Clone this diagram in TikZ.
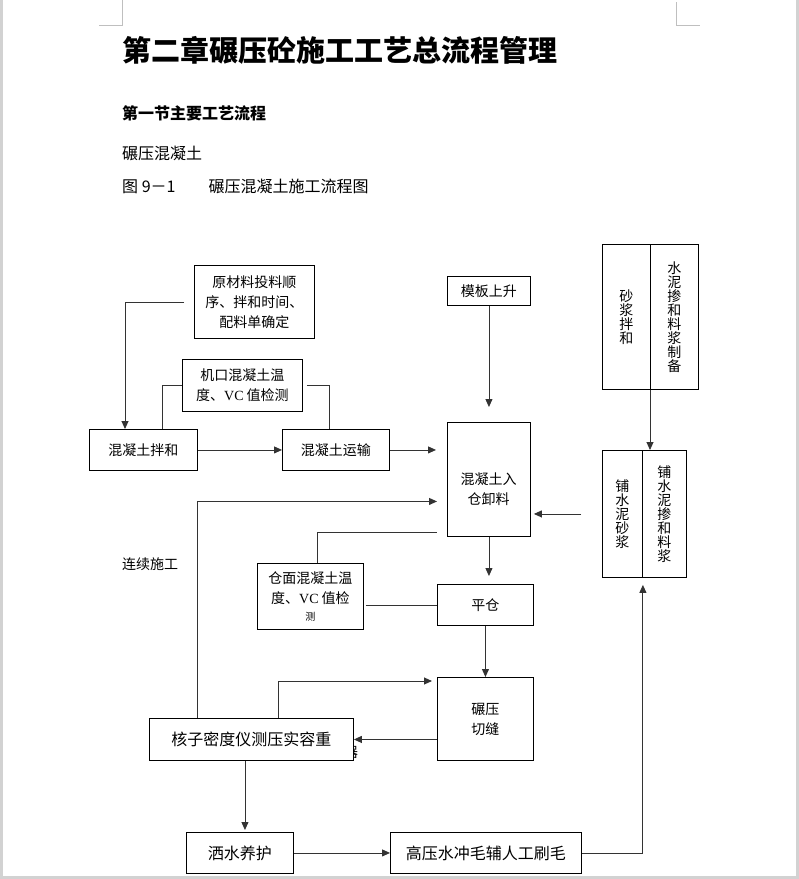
\documentclass[tikz,border=0pt]{standalone}
\usepackage{fontspec}
\setmainfont{Liberation Serif}
\newfontfamily\cjk{Noto Sans CJK SC}
\usetikzlibrary{arrows.meta}

\begin{document}
\begin{tikzpicture}[x=1pt,y=-1pt,font=\cjk\fontsize{14}{20}\selectfont,
  box/.style={draw,line width=0.9pt,fill=white,inner sep=0pt,align=center,anchor=north west},
  vbox/.style={box,font=\cjk\fontsize{14}{14}\selectfont},
  big/.style={box,font=\cjk\fontsize{16}{20}\selectfont},
  lin/.style={draw=black!80,line width=0.9pt},
  arr/.style={lin,-{Triangle[length=8pt,width=7pt]}}]

%page
\fill[white] (0,0) rectangle (799,879);
\useasboundingbox (0,0) rectangle (799,879);
\fill[gray!35] (0,0) rectangle (3,879);
\fill[gray!35] (796,0) rectangle (799,879);
\fill[gray!35] (0,876) rectangle (799,879);
\draw[gray!50] (99,25) -- (122,25) -- (122,0);
\draw[gray!50] (676,2) -- (676,25) -- (700,25);

%headings
\node[anchor=west,inner sep=0pt,font=\cjk\bfseries\fontsize{29}{29}\selectfont] (title) at (122,50) {第二章碾压砼施工工艺总流程管理};
\node[anchor=west,inner sep=0pt,font=\cjk\bfseries\fontsize{16}{16}\selectfont] (sec) at (122,113) {第一节主要工艺流程};
\node[anchor=west,inner sep=0pt,font=\cjk\fontsize{16}{16}\selectfont] (sub) at (122,153) {碾压混凝土};
\node[anchor=west,inner sep=0pt,font=\cjk\fontsize{16}{16}\selectfont] (cap) at (122,186) {图 9－1\hspace{33pt}碾压混凝土施工流程图};

%mixing and transport
\node[box,minimum width=120,minimum height=73] (raw) at (194,265) {原材料投料顺\\序、拌和时间、\\配料单确定};
\node[box,minimum width=120,minimum height=52] (jikou) at (182,359) {机口混凝土温\\度、{\rmfamily VC} 值检测};
\node[box,minimum width=108,minimum height=41] (mix) at (89,429) {混凝土拌和};
\node[box,minimum width=107,minimum height=41] (trans) at (282,429) {混凝土运输};
\node[box,minimum width=83,minimum height=29] (form) at (447,276) {模板上升};
\node[box,minimum width=83,minimum height=114] (pour) at (447,422) {};
\node[align=center] (pourtxt) at (488.5,489) {混凝土入\\仓卸料};

\draw[arr,shorten <=10pt] (raw.west) -| ([xshift=36pt]mix.north west);
\draw[lin] (jikou.west) -| ([xshift=73pt]mix.north west);
\draw[lin,shorten <=4pt] (jikou.east) -| ([xshift=47pt]trans.north west);
\draw[arr] (mix.east) -- (trans.west);
\draw[arr,shorten >=11pt] (trans.east) -- (trans.east -| pour.west);
\draw[arr,shorten >=15pt] (form.south) -- (pour.north);

%mortar
\node[vbox,minimum width=48,minimum height=145] (mortL) at (602,244) {砂\\浆\\拌\\和};
\node[vbox,minimum width=48,minimum height=145] (mortR) at (650,244) {水\\泥\\掺\\和\\料\\浆\\制\\备};
\node[vbox,minimum width=40,minimum height=127] (sprL) at (602,450) {铺\\水\\泥\\砂\\浆};
\node[vbox,minimum width=44,minimum height=127] (sprR) at (642,450) {铺\\水\\泥\\掺\\和\\料\\浆};

\draw[arr] (mortR.south west) -- (mortR.south west |- sprR.north);
\draw[arr,shorten <=21pt,shorten >=3pt] (sprL.west) -- (sprL.west -| pour.east);

%placing and rolling
\node[anchor=west,inner sep=0pt] (cont) at (122,564) {连续施工};
\node[box,minimum width=106,minimum height=66] (surf) at (257,563) {仓面混凝土温\\度、{\rmfamily VC} 值检\\[-3pt]{\fontsize{10}{10}\selectfont 测}};
\node[box,minimum width=96,minimum height=41] (level) at (437,584) {平仓};
\node[box,minimum width=96,minimum height=83] (roll) at (437,677) {碾压\\切缝};
\node (qi) at (351,752) {器};
\node[big,minimum width=204,minimum height=42] (nuc) at (149,718) {核子密度仪测压实容重};
\node[big,minimum width=107,minimum height=41] (cure) at (186,832) {洒水养护};
\node[big,minimum width=191,minimum height=41] (flush) at (390,832) {高压水冲毛辅人工刷毛};

\draw[arr,shorten >=8pt] (pour.south) -- (pour.south |- level.north);
\draw[arr] (level.south) -- (roll.north);
\draw[arr] (roll.west |- nuc.east) -- (nuc.east);
\draw[arr,shorten >=5pt] ([xshift=129pt]nuc.north west) |- ([yshift=-4pt]roll.north west);
\draw[arr,shorten >=10pt] ([xshift=48pt]nuc.north west) |- ([yshift=-22pt]pour.west);
\draw[lin,shorten >=10pt] ([xshift=60pt]surf.north west) |- ([yshift=-53pt]pour.west);
\draw[lin,shorten <=2pt] (surf.east |- level.west) -- (level.west);
\draw[arr,shorten >=2pt] ([xshift=5pt]cure.north |- nuc.south) -- ([xshift=5pt]cure.north);
\draw[arr] (cure.east) -- (flush.west);
\draw[arr,shorten >=7pt] (flush.east) -| (sprL.south east);

\end{tikzpicture}
\end{document}
